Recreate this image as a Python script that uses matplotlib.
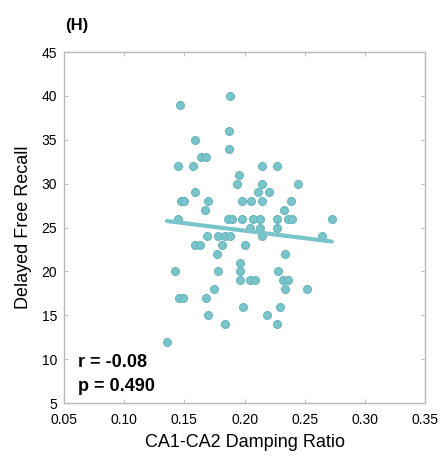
import numpy as np
import matplotlib
matplotlib.use("Agg")
import matplotlib.pyplot as plt

plt.rcParams['font.family'] = ['Liberation Sans', 'DejaVu Sans']

# damping ratio (x) and delayed free recall (y)
damping = [
    0.188, 0.146, 0.187, 0.187, 0.159,
    0.164, 0.168,
    0.145, 0.157, 0.2148, 0.2267,
    0.195,
    0.194, 0.2148, 0.2442,
    0.159, 0.211, 0.2204,
    0.147, 0.150, 0.170, 0.1977, 0.2054, 0.2148, 0.2384,
    0.167, 0.2329,
    0.145, 0.1866, 0.1894, 0.1977, 0.2073, 0.2129, 0.2267, 0.2364, 0.2392, 0.2725,
    0.2046, 0.213, 0.2267,
    0.1686, 0.178, 0.1838, 0.188, 0.2143, 0.264,
    0.159, 0.163, 0.1816, 0.2004,
    0.1774, 0.2337,
    0.1963,
    0.142, 0.178, 0.196, 0.228,
    0.196, 0.2046, 0.209, 0.2323, 0.2364,
    0.1747, 0.2337, 0.2522,
    0.1458, 0.1486, 0.168,
    0.1985, 0.2296,
    0.170, 0.2185,
    0.1833, 0.2273,
    0.1354,
]
recall = [
    40, 39, 36, 34, 35,
    33, 33,
    32, 32, 32, 32,
    31,
    30, 30, 30,
    29, 29, 29,
    28, 28, 28, 28, 28, 28, 28,
    27, 27,
    26, 26, 26, 26, 26, 26, 26, 26, 26, 26,
    25, 25, 25,
    24, 24, 24, 24, 24, 24,
    23, 23, 23, 23,
    22, 22,
    21,
    20, 20, 20, 20,
    19, 19, 19, 19, 19,
    18, 18, 18,
    17, 17, 17,
    16, 16,
    15, 15,
    14, 14,
    12,
]

x_ticks = [0.05, 0.10, 0.15, 0.20, 0.25, 0.30, 0.35]
y_ticks = [5, 10, 15, 20, 25, 30, 35, 40, 45]
r_text = "r = -0.08"
p_text = "p = 0.490"

teal = '#7ac5cc'

fig = plt.figure(figsize=(4.48, 4.57), dpi=100)
ax = fig.add_axes([0.143, 0.118, 0.806, 0.768])

x = np.array(damping)
y = np.array(recall)
ax.scatter(x, y, s=32, color=teal, edgecolors='#66b5bc', linewidths=0.8, zorder=2)

# least squares line over the data range
slope, intercept = np.polyfit(x, y, 1)
xs = np.array([x.min(), x.max()])
ax.plot(xs, slope * xs + intercept, color=teal, lw=3, solid_capstyle='round', zorder=3)

ax.set_xlim(0.05, 0.35)
ax.set_ylim(5, 45)
ax.set_xticks(x_ticks)
ax.set_xticklabels([f"{t:.2f}" for t in x_ticks])
ax.set_yticks(y_ticks)
ax.tick_params(direction='in', length=3, width=0.6, color='#b5b5b5',
               labelsize=10, top=True, right=True)
ax.tick_params(axis='x', pad=7)
ax.tick_params(axis='y', pad=5)
for sp in ax.spines.values():
    sp.set_color('#b8b8b8')
    sp.set_linewidth(1.0)

ax.set_xlabel("CA1-CA2 Damping Ratio", fontsize=13, labelpad=5)
ax.set_ylabel("Delayed Free Recall", fontsize=13, labelpad=7)

ax.text(0.038, 0.115, r_text, transform=ax.transAxes, fontsize=13,
        fontweight='bold', va='center', ha='left')
ax.text(0.038, 0.047, p_text, transform=ax.transAxes, fontsize=13,
        fontweight='bold', va='center', ha='left')

fig.text(0.145, 0.945, "(H)", fontsize=12, fontweight='bold', va='center', ha='left')

fig.savefig("out.png", dpi=100)
